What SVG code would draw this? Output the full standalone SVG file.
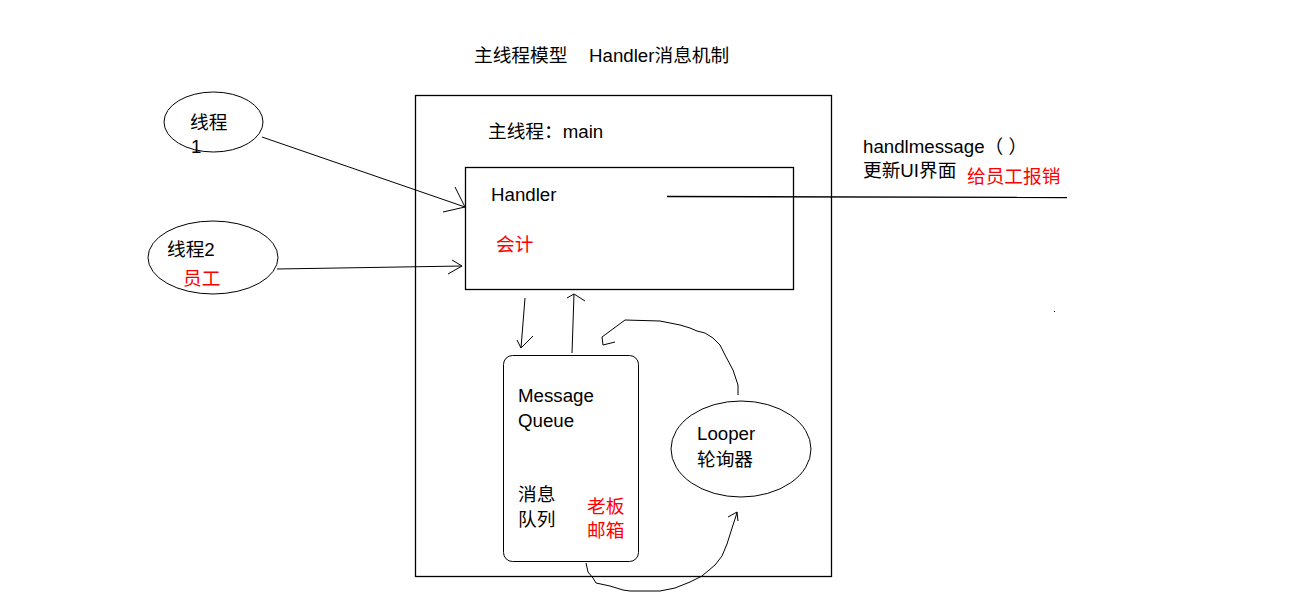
<svg xmlns="http://www.w3.org/2000/svg" width="1291" height="602" viewBox="0 0 1291 602">
<style>
text{font-family:"Liberation Sans","Noto Sans CJK SC",sans-serif;font-size:18.7px;fill:#000}
.r{fill:#ff0000}
.s{fill:none;stroke:#000;stroke-width:1}
.t{fill:none;stroke:#000;stroke-width:1.3}
</style>
<rect width="1291" height="602" fill="#fff"/>
<g id="title"><text x="474" y="62">主线程模型</text><text x="589" y="62">Handler消息机制</text></g>
<g id="main-thread">
<rect x="415.5" y="95.5" width="416" height="481" class="t"/>
<text x="488" y="138">主线程：main</text>
</g>
<g id="handler">
<rect x="465.5" y="167.5" width="328" height="122" class="t"/>
<text x="491" y="201">Handler</text>
<text x="496" y="251" class="r">会计</text>
</g>
<g id="handlmessage">
<text x="863" y="153">handlmessage（ ）</text>
<text x="863" y="177">更新UI界面</text>
<text x="967" y="183" class="r">给员工报销</text>
</g>
<g id="thread1">
<ellipse cx="213.5" cy="122" rx="49.5" ry="30" class="s"/>
<text x="190" y="129">线程</text>
<text x="191" y="153">1</text>
</g>
<g id="thread2">
<ellipse cx="213" cy="257.5" rx="65" ry="36.5" class="s"/>
<text x="167" y="256">线程2</text>
<text x="183" y="285" class="r">员工</text>
</g>
<g id="message-queue">
<rect x="503.5" y="355.5" width="135" height="206" rx="9" class="s"/>
<text x="518" y="402">Message</text>
<text x="518" y="427">Queue</text>
<text x="518" y="501">消息</text>
<text x="518" y="526">队列</text>
<text x="587" y="513" class="r">老板</text>
<text x="587" y="537" class="r">邮箱</text>
</g>
<g id="looper">
<ellipse cx="741" cy="449" rx="70" ry="48" class="s"/>
<text x="697" y="440">Looper</text>
<text x="697" y="466">轮询器</text>
</g>
<rect x="1054" y="311" width="1" height="1" fill="#000"/>
<g id="connectors">
<line x1="667" y1="196.5" x2="1067" y2="197.5" class="t"/>
<line x1="262" y1="137" x2="465" y2="207" class="s"/>
<polyline points="455,187 465,207 443,212" class="s"/>
<line x1="277" y1="269" x2="462" y2="266" class="s"/>
<polyline points="452,260 462,266 448,274" class="s"/>
<line x1="525" y1="298" x2="521" y2="348" class="s"/>
<polyline points="517,340 521,348 533,336" class="s"/>
<line x1="572" y1="353" x2="574" y2="294" class="s"/>
<polyline points="567,298 574,294 585,301" class="s"/>
<polyline points="738,395 738,385 733,370 725,355 720,345 713,338 705,333 697,331 690,328 680,325 660,321 625,320 602,337 603,345 615,342" class="s"/>
<polyline points="586,563 588,572 593,578 596,583 610,586 623,590 630,591 660,591 675,588 690,582 702,576 715,565 722,556 727,544 733,525 736,516 737,512" class="s"/>
<polyline points="728,517 737,512 738,521" class="s"/>
</g>
</svg>
